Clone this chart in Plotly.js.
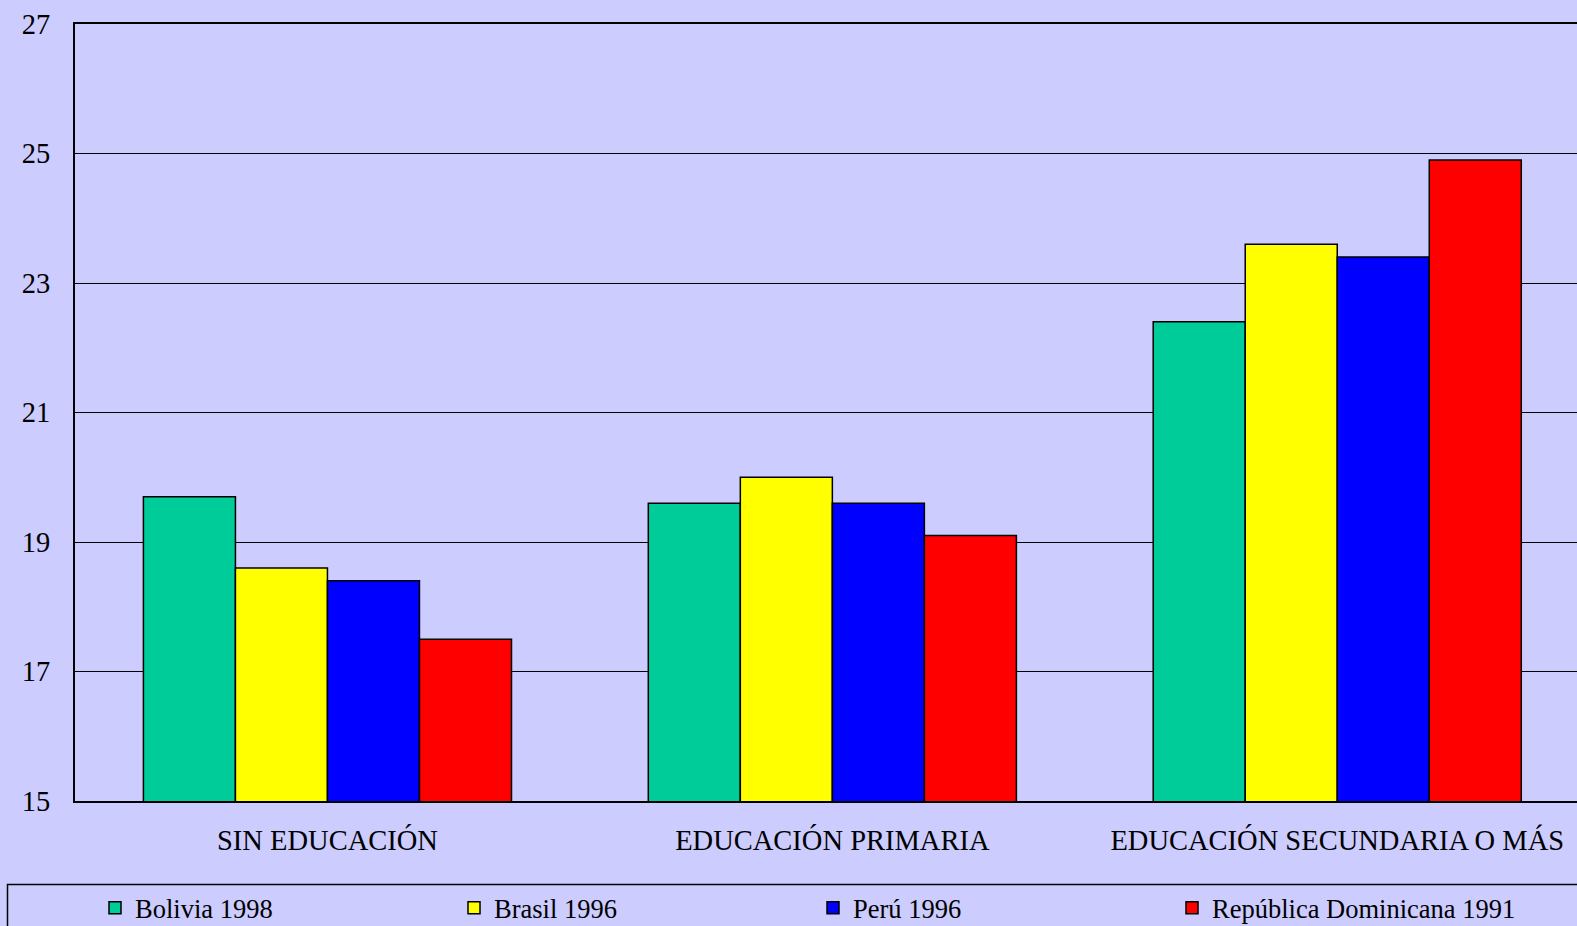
<!DOCTYPE html>
<html>
<head>
<meta charset="utf-8">
<script src="https://cdn.plot.ly/plotly-3.0.1.min.js"></script>
<style>html,body{margin:0;padding:0;background:#CCCCFF;}#chart{width:1577px;height:926px;}</style>
</head>
<body>
<div id="chart"></div>
<script>
const categories = ["SIN EDUCACIÓN", "EDUCACIÓN PRIMARIA", "EDUCACIÓN SECUNDARIA O MÁS"];
const seriesNames = ["Bolivia 1998", "Brasil 1996", "Perú 1996", "República Dominicana 1991"];
const bolivia = [19.7, 19.6, 22.4];
const brasil = [18.6, 20.0, 23.6];
const peru = [18.4, 19.6, 23.4];
const repDominicana = [17.5, 19.1, 24.9];
const seriesValues = [bolivia, brasil, peru, repDominicana];
const colors = ["#00CC99", "#FFFF00", "#0000FF", "#FF0000"];
const yTicks = [15, 17, 19, 21, 23, 25, 27];

const W = 1577, H = 926;
const mL = 75, mR = 0, mT = 24, mB = 125;
const pw = W - mL - mR, ph = H - mT - mB;
const px2x = p => (p - mL) / pw;
const py2y = p => (H - mB - p) / ph;

const traces = seriesNames.map((name, i) => ({
  type: "bar",
  name: name,
  x: categories,
  y: seriesValues[i],
  marker: {color: colors[i], line: {color: "#000000", width: 1.5}},
  hoverinfo: "skip"
}));

const serif = "'Liberation Serif', 'Times New Roman', serif";

const layout = {
  width: W, height: H,
  margin: {l: mL, r: mR, t: mT, b: mB, pad: 0, autoexpand: false},
  paper_bgcolor: "#CCCCFF",
  plot_bgcolor: "#CCCCFF",
  barmode: "group",
  bargap: 0.271,
  bargroupgap: 0,
  font: {family: serif, color: "#000000", size: 27},
  xaxis: {
    type: "category",
    range: [-0.5, -0.5 + pw / 504.9],
    showgrid: false,
    showline: true, linecolor: "#000000", linewidth: 2, mirror: true,
    ticks: "", ticklabelstandoff: 13,
    tickfont: {family: serif, size: 28.5, color: "#000000"},
    automargin: false,
    fixedrange: true
  },
  yaxis: {
    range: [15, 27],
    tickvals: yTicks,
    ticktext: yTicks.map(String),
    showgrid: true, gridcolor: "#000000", gridwidth: 1,
    showline: true, linecolor: "#000000", linewidth: 2,
    zeroline: false,
    ticks: "", ticklabelstandoff: 17,
    tickfont: {family: serif, size: 28.5, color: "#000000"},
    automargin: false,
    fixedrange: true
  },
  showlegend: true,
  legend: {
    orientation: "h",
    xref: "container", yref: "container",
    x: 95 / W, xanchor: "left",
    y: (H - 908) / H, yanchor: "middle",
    bgcolor: "rgba(0,0,0,0)",
    borderwidth: 0,
    entrywidth: 314, entrywidthmode: "pixels",
    font: {family: serif, size: 26.5, color: "#000000"},
    traceorder: "normal"
  },
  shapes: [{
    type: "rect", xref: "paper", yref: "paper",
    x0: px2x(7.5), x1: px2x(1600),
    y0: py2y(884.5), y1: py2y(960),
    line: {color: "#000000", width: 1.5},
    fillcolor: "rgba(0,0,0,0)",
    layer: "above"
  }]
};

Plotly.newPlot("chart", traces, layout, {staticPlot: true, displayModeBar: false});
</script>
</body>
</html>
